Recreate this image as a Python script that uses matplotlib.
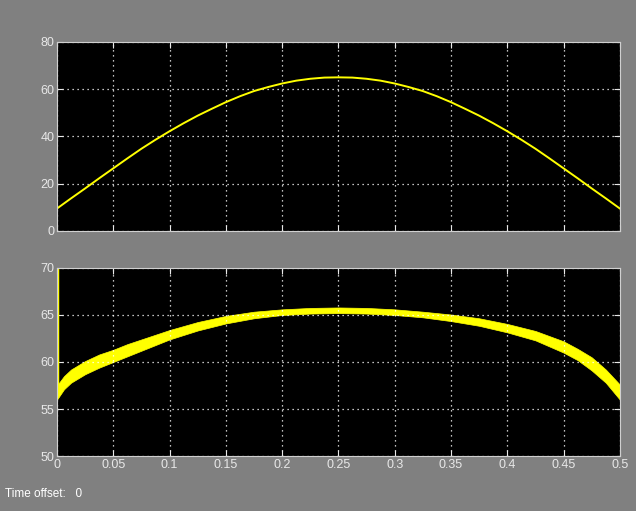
import matplotlib
matplotlib.use("Agg")
import matplotlib.pyplot as plt

plt.rcParams['font.family'] = ['Liberation Sans', 'DejaVu Sans']

# top scope: rectified-looking sine
t_top = [0, 0, 0.0125, 0.025, 0.0375, 0.05, 0.0625, 0.075, 0.0875, 0.1, 0.1125,
         0.125, 0.1375, 0.15, 0.1625, 0.175, 0.1875, 0.2, 0.2125, 0.225, 0.2375, 0.25,
         0.2625, 0.275, 0.2875, 0.3, 0.3125, 0.325, 0.3375, 0.35, 0.3625, 0.375,
         0.3875, 0.4, 0.4125, 0.425, 0.4375, 0.45, 0.4625, 0.475, 0.4875, 0.5]
v_top = [0, 9.5, 13.8, 18.0, 22.3, 26.5, 30.7, 34.8, 38.6, 42.2, 45.6,
         48.8, 51.7, 54.5, 57.0, 59.2, 60.9, 62.4, 63.6, 64.4, 64.9, 65.0,
         64.9, 64.4, 63.6, 62.4, 60.9, 59.2, 57.0, 54.5, 51.7, 48.8,
         45.6, 42.2, 38.6, 34.8, 30.7, 26.5, 22.3, 18.0, 13.8, 9.5]

# bottom scope: thick rippled band (lower / upper edges)
t_bot = [0, 0.00625, 0.0125, 0.025, 0.0375, 0.05, 0.0625, 0.075, 0.1, 0.125, 0.15, 0.175,
         0.2, 0.225, 0.25, 0.275, 0.3, 0.325, 0.35, 0.375, 0.4, 0.425, 0.45,
         0.4625, 0.475, 0.4875, 0.5]
lo_bot = [56.0, 57.1, 57.8, 58.7, 59.4, 60.0, 60.6, 61.2, 62.4, 63.35, 64.1, 64.65,
          65.0, 65.15, 65.2, 65.15, 65.0, 64.75, 64.35, 63.85, 63.15, 62.3, 61.0,
          60.2, 59.1, 57.8, 56.0]
hi_bot = [57.5, 58.5, 59.2, 60.1, 60.8, 61.3, 61.9, 62.4, 63.4, 64.25, 64.9, 65.35,
          65.6, 65.75, 65.8, 65.75, 65.6, 65.35, 65.05, 64.65, 64.05, 63.3, 62.2,
          61.4, 60.5, 59.2, 57.6]
# start-up transient at t = 0
t_spike = [0, 0]
v_spike = [75, 56.5]

x_ticks = [0, 0.05, 0.1, 0.15, 0.2, 0.25, 0.3, 0.35, 0.4, 0.45, 0.5]
x_labels = ['0', '0.05', '0.1', '0.15', '0.2', '0.25', '0.3', '0.35', '0.4', '0.45', '0.5']
top_yticks = [0, 20, 40, 60, 80]
bot_yticks = [50, 55, 60, 65, 70]

bg = '#808080'
fg = '#e8e8e8'
yel = '#ffff00'

fig = plt.figure(figsize=(6.36, 5.11), dpi=100, facecolor=bg)
ax1 = fig.add_axes([0.0896, 0.548, 0.885, 0.370])
ax2 = fig.add_axes([0.0896, 0.1076, 0.885, 0.368])

for ax in (ax1, ax2):
    ax.set_facecolor('black')
    ax.set_xlim(0, 0.5)
    ax.set_xticks(x_ticks)
    ax.grid(True, color='white', linestyle=(0, (1, 3)), linewidth=0.9)
    ax.tick_params(direction='in', colors=fg, labelsize=9, length=4, width=0.8,
                   top=True, right=True, pad=2)
    for s in ax.spines.values():
        s.set_color('#d0d0d0')
        s.set_linewidth(0.8)

ax1.plot(t_top, v_top, color=yel, linewidth=1.4)
ax1.set_ylim(0, 80)
ax1.set_yticks(top_yticks)
ax1.set_xticklabels([])

ax2.fill_between(t_bot, lo_bot, hi_bot, color=yel, linewidth=0.5, edgecolor=yel)
ax2.plot(t_spike, v_spike, color=yel, linewidth=2.5)
ax2.set_ylim(50, 70)
ax2.set_yticks(bot_yticks)
ax2.set_xticklabels(x_labels)

fig.text(0.008, 0.027, 'Time offset:   0', color='white', fontsize=8.5)

fig.savefig('out.png', dpi=100, facecolor=bg)
